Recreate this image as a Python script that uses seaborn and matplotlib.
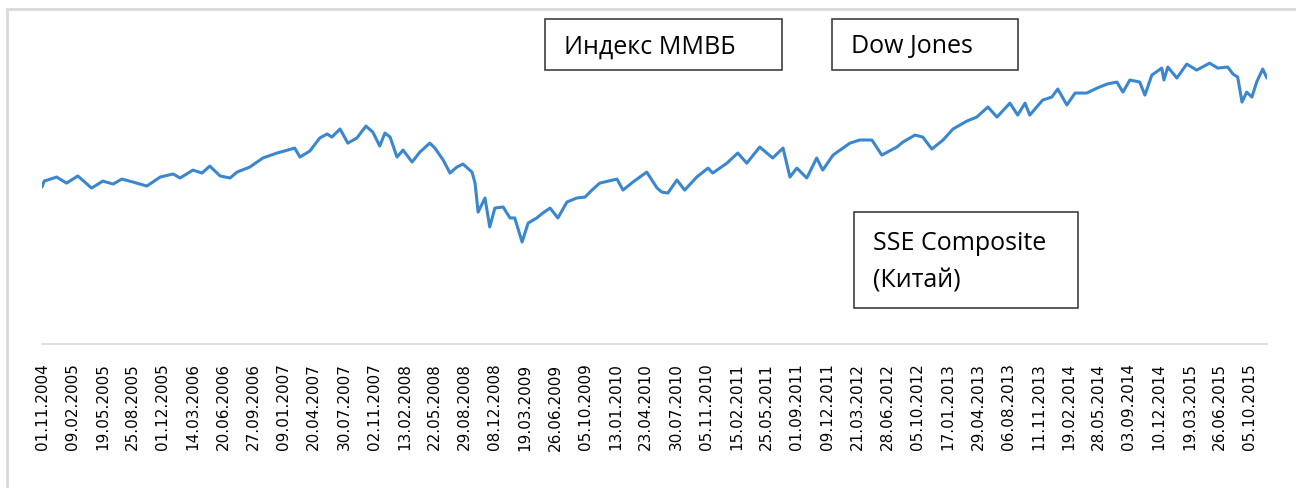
import matplotlib
matplotlib.use("Agg")
import matplotlib.pyplot as plt
import seaborn as sns
import pandas as pd
from matplotlib.patches import Rectangle
from matplotlib.lines import Line2D

# trading day number (counted from 01.11.2004) and index level
day = [0, 5, 34, 57, 83, 115, 141, 165, 185, 211, 243, 274, 304, 320, 350, 371, 389, 413,
       436, 452, 482, 512, 545, 586, 598, 621, 644, 661, 672, 691, 709, 730, 751, 767, 783,
       795, 807, 823, 837, 858, 876, 899, 911, 930, 946, 962, 976, 997, 1004, 1011, 1027,
       1038, 1050, 1069, 1085, 1096, 1113, 1127, 1147, 1161, 1178, 1196, 1217, 1240, 1259,
       1275, 1293, 1333, 1347, 1370, 1402, 1426, 1437, 1451, 1472, 1490, 1518, 1544, 1555,
       1588, 1613, 1634, 1664, 1694, 1718, 1734, 1750, 1773, 1796, 1810, 1834, 1873, 1896,
       1924, 1947, 1982, 1996, 2024, 2042, 2063, 2089, 2112, 2144, 2167, 2193, 2214, 2244,
       2262, 2279, 2290, 2320, 2341, 2355, 2376, 2395, 2422, 2446, 2469, 2492, 2506, 2522,
       2545, 2557, 2573, 2596, 2601, 2610, 2631, 2654, 2677, 2707, 2726, 2749, 2761, 2772,
       2782, 2793, 2805, 2816, 2830, 2840]
value = [10130, 10510, 10770, 10380, 10840, 10060, 10510, 10320, 10640, 10450, 10190, 10770,
         10970, 10710, 11220, 11030, 11480, 10840, 10710, 11090, 11420, 12000, 12320, 12640,
         12060, 12450, 13290, 13550, 13350, 13870, 12960, 13290, 14060, 13670, 12770, 13610,
         13350, 12060, 12510, 11740, 12380, 12960, 12640, 11870, 11030, 11420, 11610, 11090,
         10380, 8510, 9420, 7550, 8770, 8840, 8130, 8130, 6580, 7800, 8130, 8450, 8770, 8130,
         9160, 9420, 9480, 9930, 10380, 10640, 9930, 10450, 11090, 10060, 9800, 9740, 10580,
         9930, 10770, 11350, 11030, 11670, 12320, 11670, 12710, 12000, 12640, 10770, 11350,
         10710, 12000, 11220, 12190, 12960, 13160, 13160, 12190, 12710, 13030, 13480, 13350,
         12580, 13160, 13870, 14380, 14640, 15290, 14640, 15540, 14770, 15540, 14770, 15740,
         15930, 16450, 15420, 16190, 16190, 16510, 16770, 16900, 16250, 17030, 16900, 16060,
         17350, 17800, 17030, 17870, 17160, 18060, 17670, 18120, 17800, 17870, 17420, 17220,
         15610, 16250, 15930, 16900, 17740, 17160]

tick_labels = ["01.11.2004", "09.02.2005", "19.05.2005", "25.08.2005", "01.12.2005",
               "14.03.2006", "20.06.2006", "27.09.2006", "09.01.2007", "20.04.2007",
               "30.07.2007", "02.11.2007", "13.02.2008", "22.05.2008", "29.08.2008",
               "08.12.2008", "19.03.2009", "26.06.2009", "05.10.2009", "13.01.2010",
               "23.04.2010", "30.07.2010", "05.11.2010", "15.02.2011", "25.05.2011",
               "01.09.2011", "09.12.2011", "21.03.2012", "28.06.2012", "05.10.2012",
               "17.01.2013", "29.04.2013", "06.08.2013", "11.11.2013", "19.02.2014",
               "28.05.2014", "03.09.2014", "10.12.2014", "19.03.2015", "26.06.2015",
               "05.10.2015"]
tick_step = 70

df = pd.DataFrame({"day": day, "value": value})

sns.set_theme(style="white")
plt.rcParams["font.family"] = ["DejaVu Sans"]

W, H = 1296, 488
fig = plt.figure(figsize=(W / 100, H / 100), dpi=100)
ax = fig.add_axes([42 / W, 1 - 344 / H, 1225 / W, 310 / H])

sns.lineplot(data=df, x="day", y="value", color="#3a87cf", linewidth=2.2, ax=ax)

ax.set_xlim(0, 2840)
ax.set_ylim(0, 20000)
ax.set_xticks([i * tick_step for i in range(len(tick_labels))])
ax.set_xticklabels(tick_labels, rotation=90, fontsize=11, color="black")
ax.tick_params(axis="x", length=0, pad=14)
ax.set_yticks([])
ax.set_xlabel("")
ax.set_ylabel("")
for side in ["top", "right", "left"]:
    ax.spines[side].set_visible(False)
ax.spines["bottom"].set_color("#d9d9d9")
ax.spines["bottom"].set_linewidth(1.2)


def fx(px):
    return px / W


def fy(py):
    return 1 - py / H


# outer frame (left and top edges visible)
fig.add_artist(Line2D([fx(7), fx(7)], [0, fy(9)], color="#d9d9d9", lw=2))
fig.add_artist(Line2D([fx(7), 1], [fy(9), fy(9)], color="#d9d9d9", lw=2))

# text boxes
boxes = [
    (545, 19, 782, 70),
    (832, 19, 1018, 70),
    (854, 212, 1078, 308),
]
for x0, y0, x1, y1 in boxes:
    fig.add_artist(Rectangle((fx(x0), fy(y1)), (x1 - x0) / W, (y1 - y0) / H,
                             transform=fig.transFigure, fill=False,
                             edgecolor="#404040", linewidth=1.2))

box_font = dict(family=["Open Sans", "DejaVu Sans"], fontsize=18, color="black",
                va="center", ha="left")
fig.text(fx(564), fy(47), "Индекс ММВБ", **box_font)
fig.text(fx(851), fy(47), "Dow Jones", **box_font)
fig.text(fx(873), fy(243), "SSE Composite", **box_font)
fig.text(fx(873), fy(281), "(Китай)", **box_font)

fig.savefig("out.png", dpi=100, facecolor="white")
